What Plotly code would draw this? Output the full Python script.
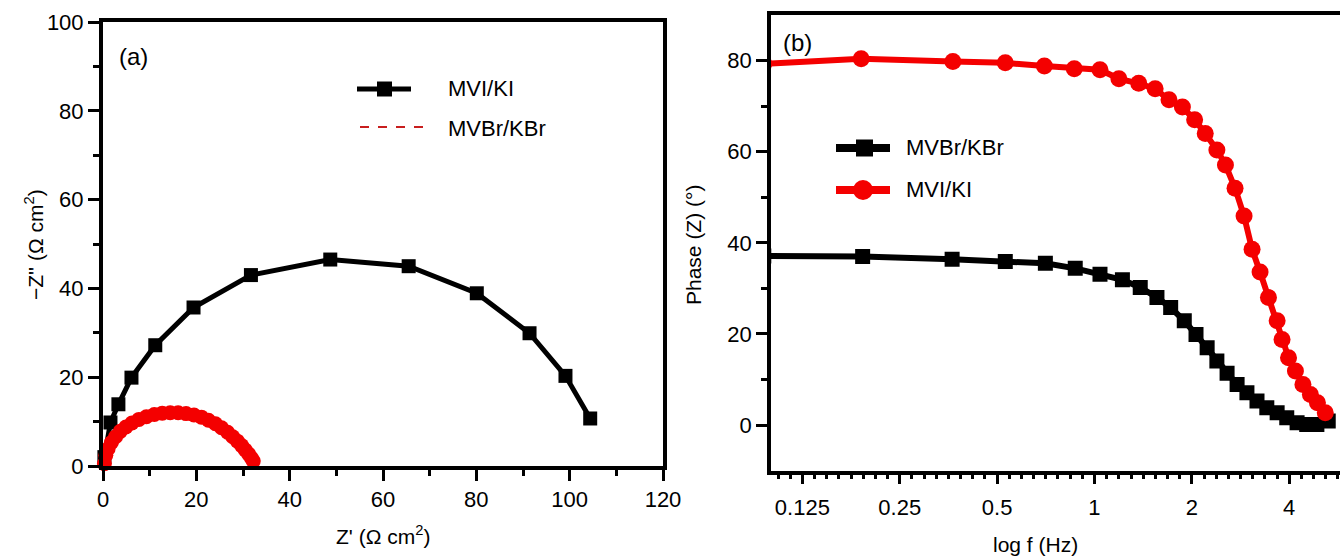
import numpy as np
import plotly.graph_objects as go

W, H = 1340, 557

# ---- Panel (a): Nyquist plot ----
zre_mvi = [0.3, 1.6, 3.3, 6.1, 11.2, 19.4, 31.7, 48.7, 65.5, 80.1, 91.4, 99.1, 104.4]
zim_mvi = [2.0, 9.8, 13.9, 19.9, 27.2, 35.7, 43.0, 46.5, 45.0, 38.9, 29.9, 20.3, 10.7]

zre_mvbr = [0.3, 0.6, 1.1, 1.8, 2.7, 3.7, 4.9, 6.2, 7.7, 9.3, 11.0, 12.7, 14.4, 16.1,
            17.8, 19.5, 21.1, 22.6, 24.1, 25.4, 26.7, 27.8, 28.8, 29.7, 30.5, 31.2, 31.8, 32.2]
zim_mvbr = [0.5, 2.4, 3.9, 5.3, 6.6, 7.8, 8.8, 9.7, 10.5, 11.1, 11.6, 11.9, 12.0, 12.0,
            11.8, 11.5, 11.0, 10.3, 9.5, 8.6, 7.6, 6.6, 5.6, 4.6, 3.6, 2.7, 1.8, 1.1]

nyq_xticks = [0, 20, 40, 60, 80, 100, 120]
nyq_yticks = [0, 20, 40, 60, 80, 100]

# ---- Panel (b): Bode phase plot ----
freq_mvbr = [0.095, 0.192, 0.363, 0.530, 0.705, 0.872, 1.04, 1.22, 1.385, 1.56, 1.72, 1.895,
             2.06, 2.23, 2.39, 2.57, 2.76, 2.96, 3.18, 3.41, 3.67, 3.93, 4.23, 4.53, 4.87, 5.28]
phase_mvbr = [37.1, 37.0, 36.4, 35.9, 35.5, 34.4, 33.1, 31.9, 30.2, 28.0, 25.8, 22.9,
              19.9, 17.0, 14.1, 11.4, 8.9, 7.1, 5.3, 3.8, 2.7, 1.6, 0.5, 0.15, 0.15, 0.9]

freq_mvi = [0.095, 0.19, 0.365, 0.53, 0.70, 0.866, 1.04, 1.19, 1.37, 1.54, 1.70, 1.87, 2.04,
            2.20, 2.39, 2.54, 2.72, 2.90, 3.07, 3.25, 3.45, 3.67, 3.80, 3.98, 4.18, 4.41,
            4.65, 4.89, 5.17]
phase_mvi = [79.3, 80.4, 79.8, 79.5, 78.8, 78.2, 78.0, 76.0, 75.0, 73.8, 71.4, 69.8, 67.0,
             64.0, 60.4, 57.1, 52.0, 45.9, 38.6, 33.6, 28.0, 22.9, 18.8, 14.8, 11.9, 8.9,
             6.7, 4.9, 2.7]

bode_xticks = [0.125, 0.25, 0.5, 1, 2, 4]
bode_xticktext = ["0.125", "0.25", "0.5", "1", "2", "4"]
bode_yticks = [0, 20, 40, 60, 80]

RED = "rgb(244,0,0)"
FONT = "Arial, Liberation Sans, Helvetica, sans-serif"


def px(x):
    return x / W


def py(y):
    return 1 - y / H


fig = go.Figure()

fig.add_trace(go.Scatter(
    x=zre_mvi, y=zim_mvi, mode="lines+markers", xaxis="x", yaxis="y",
    line=dict(color="black", width=5),
    marker=dict(symbol="square", size=14, color="black"),
    cliponaxis=False, showlegend=False))
fig.add_trace(go.Scatter(
    x=zre_mvbr, y=zim_mvbr, mode="markers", xaxis="x", yaxis="y",
    marker=dict(symbol="circle", size=15, color=RED),
    cliponaxis=False, showlegend=False))

fig.add_trace(go.Scatter(
    x=freq_mvbr, y=phase_mvbr, mode="lines+markers", xaxis="x2", yaxis="y2",
    line=dict(color="black", width=6),
    marker=dict(symbol="square", size=15, color="black"),
    showlegend=False))
fig.add_trace(go.Scatter(
    x=freq_mvi, y=phase_mvi, mode="lines+markers", xaxis="x2", yaxis="y2",
    line=dict(color=RED, width=6),
    marker=dict(symbol="circle", size=17, color=RED),
    showlegend=False))

axis_common = dict(
    showline=True, linecolor="black", showgrid=False, zeroline=False,
    ticks="outside", tickcolor="black", tickwidth=3, ticklen=11,
    tickfont=dict(family=FONT, size=22, color="black"),
    automargin=False,
)

# minor ticks for the log-frequency axis: eight per octave
bode_minor = list(2.0 ** np.arange(-3.375, 2.6, 0.125))

fig.update_layout(
    width=W, height=H,
    margin=dict(l=0, r=0, t=0, b=0),
    paper_bgcolor="white", plot_bgcolor="white",
    xaxis=dict(axis_common, domain=[px(103), px(663)], range=[0, 120],
               tickvals=nyq_xticks, mirror=True, linewidth=4, anchor="y",
               minor=dict(dtick=10, ticks="outside", ticklen=6, tickwidth=3, tickcolor="black")),
    yaxis=dict(axis_common, domain=[py(466), py(22)], range=[0, 100],
               tickvals=nyq_yticks, mirror=True, linewidth=4, anchor="x",
               minor=dict(dtick=10, ticks="outside", ticklen=6, tickwidth=3, tickcolor="black")),
    xaxis2=dict(axis_common, type="log", domain=[px(771), 1.0], range=[-1, 0.759],
                tickvals=bode_xticks, ticktext=bode_xticktext, mirror=True, linewidth=3.5,
                anchor="y2", ticklen=10, ticklabelstandoff=4,
                minor=dict(tickvals=bode_minor, ticks="outside", ticklen=5, tickwidth=2.5,
                           tickcolor="black")),
    yaxis2=dict(axis_common, domain=[py(470.7), py(15)], range=[-10, 90],
                tickvals=bode_yticks, mirror=False, linewidth=3.5, anchor="x2",
                minor=dict(tickvals=[10, 30, 50, 70], ticks="outside", ticklen=6, tickwidth=3,
                           tickcolor="black")),
)

# legend symbols and labels
shapes = [
    # panel (a)
    dict(type="line", xref="paper", yref="paper", x0=px(357), x1=px(411), y0=py(89), y1=py(89),
         line=dict(color="black", width=5)),
    dict(type="rect", xref="paper", yref="paper", x0=px(377), x1=px(392), y0=py(81.5), y1=py(96.5),
         line=dict(width=0), fillcolor="black"),
    dict(type="line", xref="paper", yref="paper", x0=px(360), x1=px(425), y0=py(127), y1=py(127),
         line=dict(color="rgb(200,30,30)", width=2, dash="dash")),
    # panel (b)
    dict(type="line", xref="paper", yref="paper", x0=px(836), x1=px(890), y0=py(148), y1=py(148),
         line=dict(color="black", width=8)),
    dict(type="rect", xref="paper", yref="paper", x0=px(856), x1=px(873), y0=py(139.5), y1=py(156.5),
         line=dict(width=0), fillcolor="black"),
    dict(type="line", xref="paper", yref="paper", x0=px(836), x1=px(890), y0=py(190), y1=py(190),
         line=dict(color=RED, width=8)),
    dict(type="circle", xref="paper", yref="paper", x0=px(853), x1=px(873), y0=py(180), y1=py(200),
         line=dict(width=0), fillcolor=RED),
]


def label(x, y, text, size=22, xanchor="left", angle=0):
    return dict(xref="paper", yref="paper", x=px(x), y=py(y), text=text, showarrow=False,
                xanchor=xanchor, yanchor="middle", textangle=angle,
                font=dict(family=FONT, size=size, color="black"))


annotations = [
    label(446, 89, "MVI/KI"),
    label(446, 128, "MVBr/KBr"),
    label(904, 148, "MVBr/KBr"),
    label(904, 190, "MVI/KI"),
    label(117, 56, "(a)", size=24),
    label(781, 42, "(b)", size=24),
    label(383, 535, "Z' (Ω cm<sup>2</sup>)", size=21, xanchor="center"),
    label(34, 245, "\u2212Z'' (Ω cm<sup>2</sup>)", size=21, xanchor="center", angle=-90),
    label(1035, 544, "log f (Hz)", size=21, xanchor="center"),
    label(694, 245, "Phase (Z) (°)", size=21, xanchor="center", angle=-90),
]

fig.update_layout(shapes=shapes, annotations=annotations)

fig.write_html("out.html")
